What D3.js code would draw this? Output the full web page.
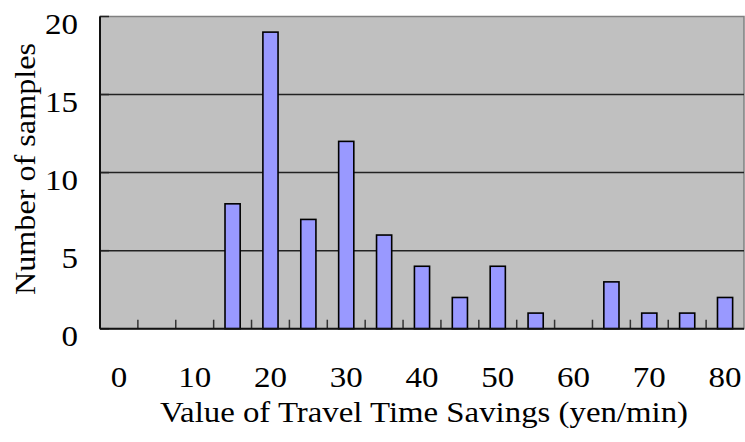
<!DOCTYPE html>
<html>
<head>
<meta charset="utf-8">
<script src="https://cdn.jsdelivr.net/npm/d3@7"></script>
<style>
  html, body { margin: 0; padding: 0; background: #fff; }
  svg { display: block; }
  text { font-family: "Liberation Serif", "Times New Roman", serif; fill: #000; }
</style>
</head>
<body>
<svg id="chart" width="745" height="442"></svg>
<script>
// Value of travel time savings, binned in 5 yen/min steps
const categories = [0, 5, 10, 15, 20, 25, 30, 35, 40, 45, 50, 55, 60, 65, 70, 75, 80];
const counts     = [0, 0, 0, 8, 19, 7, 12, 6, 4, 2, 4, 1, 0, 3, 1, 1, 2];
const xTickLabels = [0, 10, 20, 30, 40, 50, 60, 70, 80];
const yTicks = [0, 5, 10, 15, 20];

const svg = d3.select("#chart");
const margin = { left: 100, right: 1, top: 16.5, bottom: 113.3 };
const W = 745, H = 442;
const plotW = W - margin.left - margin.right;
const plotH = H - margin.top - margin.bottom;
const FONT = 30;      // label font size
const STRETCH = 1.1;  // horizontal glyph stretch

const x = d3.scaleBand()
  .domain(categories)
  .range([0, plotW])
  .paddingInner(0.6)
  .paddingOuter(0.3);

const y = d3.scaleLinear().domain([0, 20]).range([plotH, 0]);

const g = svg.append("g").attr("transform", `translate(${margin.left},${margin.top})`);

// Plot area
g.append("rect")
  .attr("x", 0).attr("y", 0)
  .attr("width", plotW).attr("height", plotH)
  .attr("fill", "#C0C0C0")
  .attr("stroke", "#808080")
  .attr("stroke-width", 1.5);

// Horizontal gridlines
g.selectAll("line.grid")
  .data(yTicks.filter(d => d > 0 && d < 20))
  .join("line")
  .attr("class", "grid")
  .attr("x1", 0).attr("x2", plotW)
  .attr("y1", d => y(d)).attr("y2", d => y(d))
  .attr("stroke", "#222")
  .attr("stroke-width", 1.5);

// Bars
g.selectAll("rect.bar")
  .data(categories.map((c, i) => ({ c, v: counts[i] })).filter(d => d.v > 0))
  .join("rect")
  .attr("class", "bar")
  .attr("x", d => x(d.c))
  .attr("y", d => y(d.v))
  .attr("width", x.bandwidth())
  .attr("height", d => y(0) - y(d.v))
  .attr("fill", "#9999FF")
  .attr("stroke", "#000")
  .attr("stroke-width", 1.6);

// X axis: inside tick marks between categories
const step = x.step();
const boundaries = d3.range(1, categories.length).map(i => i * step);
g.selectAll("line.xtick")
  .data(boundaries)
  .join("line")
  .attr("class", "xtick")
  .attr("x1", d => d).attr("x2", d => d)
  .attr("y1", plotH).attr("y2", plotH - 9)
  .attr("stroke", "#333")
  .attr("stroke-width", 1.5);

// Y axis inside ticks
g.selectAll("line.ytick")
  .data(yTicks)
  .join("line")
  .attr("class", "ytick")
  .attr("x1", 0).attr("x2", 9)
  .attr("y1", d => y(d)).attr("y2", d => y(d))
  .attr("stroke", "#222")
  .attr("stroke-width", 1.5);

// Axis lines
g.append("line")
  .attr("x1", 0).attr("x2", plotW)
  .attr("y1", plotH).attr("y2", plotH)
  .attr("stroke", "#111").attr("stroke-width", 2);
g.append("line")
  .attr("x1", 0).attr("x2", 0)
  .attr("y1", 0).attr("y2", plotH)
  .attr("stroke", "#111").attr("stroke-width", 2);

// Y tick labels
g.selectAll("text.ylab")
  .data(yTicks)
  .join("text")
  .attr("class", "ylab")
  .attr("transform", d => `translate(-22,${y(d) + 17}) scale(${STRETCH},1)`)
  .attr("text-anchor", "end")
  .attr("font-size", FONT)
  .text(d => d);

// X tick labels (every other category)
g.selectAll("text.xlab")
  .data(xTickLabels)
  .join("text")
  .attr("class", "xlab")
  .attr("transform", d => `translate(${x(d) + x.bandwidth() / 2},${plotH + 58}) scale(${STRETCH},1)`)
  .attr("text-anchor", "middle")
  .attr("font-size", FONT)
  .text(d => d);

// Axis titles
svg.append("text")
  .attr("x", 424)
  .attr("y", 422)
  .attr("text-anchor", "middle")
  .attr("font-size", FONT)
  .attr("textLength", 528)
  .attr("lengthAdjust", "spacingAndGlyphs")
  .text("Value of Travel Time Savings (yen/min)");

svg.append("text")
  .attr("transform", "translate(35,169) rotate(-90)")
  .attr("text-anchor", "middle")
  .attr("font-size", FONT)
  .attr("textLength", 252)
  .attr("lengthAdjust", "spacingAndGlyphs")
  .text("Number of samples");
</script>
</body>
</html>
